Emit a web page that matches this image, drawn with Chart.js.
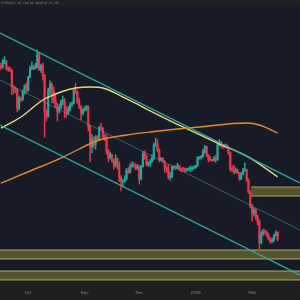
<!DOCTYPE html>
<html lang="en">
<head>
    <meta charset="UTF-8">
    <title>ETH daily channel</title>
    <script src="https://cdn.jsdelivr.net/npm/chart.js"></script>
    <style>
        html, body { margin: 0; padding: 0; background: #1f1f1f; }
        #wrap { position: relative; width: 300px; height: 300px; }
    </style>
</head>
<body>
<div id="wrap"><canvas id="chart"></canvas></div>

<script>
    // Daily candles, Sep 16 2025 -> Feb 15 2026 (x = day number)
    const firstOpen = 4520;
    const closes = [
        4500,4590,4590,4480,4470,4450,4200,4170,4150,3870,4030,4010,4140,4220,4150,
        4350,4480,4510,4480,4510,4690,4460,4530,4370,3830,3750,4150,4240,4130,3990,3890,3830,3890,3980,3980,3870,3800,3850,3930,3950,4150,4120,3980,3900,3800,3850,
        3880,3900,3600,3290,3420,3320,3440,3400,3580,3560,3430,3410,3230,3120,3170,3070,3010,3110,3020,2830,2760,2770,2800,2930,2900,2990,3010,3000,2960,2990,
        2800,2990,3190,3140,3020,3040,3060,3120,3320,3330,3240,3090,3110,3060,2960,2950,2830,2830,2980,2980,2970,3000,2960,2950,2940,2930,2950,2950,2950,2970,2970,
        3000,3120,3120,3140,3220,3290,3160,3100,3090,3080,3120,3090,3320,3350,3310,3290,3310,3280,3200,2950,2940,2900,2930,2890,2800,2870,2930,2940,2780,2600,2380,
        2280,2330,2220,2150,1830,1960,2000,1990,1940,1890,1850,1870,1940,1990,1880
    ];
    const highs = [
        4560,4620,4660,4600,4510,4500,4470,4220,4200,4180,4060,4050,4150,4230,4260,
        4360,4520,4580,4530,4560,4760,4720,4540,4560,4390,3850,4180,4290,4260,4200,4080,3950,3930,4000,4060,4020,3900,3900,3960,3970,4180,4250,4140,4030,3920,3870,
        3900,3920,3910,3620,3480,3440,3460,3460,3600,3650,3580,3480,3470,3250,3210,3180,3100,3170,3120,3060,2850,2790,2850,2960,2970,3030,3060,3050,3030,3020,
        3000,3010,3220,3230,3160,3060,3100,3170,3350,3420,3400,3260,3130,3120,3080,3000,3020,2900,3000,3000,3000,3040,3010,2970,2980,2970,2960,2970,3000,2990,3000,
        3010,3140,3140,3160,3250,3310,3300,3170,3140,3100,3140,3160,3340,3400,3370,3320,3330,3330,3300,3210,3000,3010,2970,2950,2900,2900,2960,3040,2950,2800,2620,
        2420,2360,2350,2250,2180,2000,2040,2030,2010,1970,1910,1900,1960,2010,2000
    ];
    const lows = [
        4460,4480,4550,4450,4440,4430,4080,4100,4110,3820,3850,3980,3990,4090,4100,
        4130,4340,4460,4460,4470,4490,4450,4420,4300,3435,3680,3740,4080,3960,3950,3880,3680,3800,3860,3930,3730,3740,3780,3830,3900,3940,4100,3950,3870,3700,3770,
        3830,3840,3530,3060,3200,3270,3250,3370,3390,3540,3400,3380,3180,3060,3100,3060,2950,2980,2950,2760,2620,2700,2750,2780,2880,2890,2980,2980,2940,2940,
        2720,2780,2980,3100,3000,2990,2990,3050,3090,3300,3210,3060,3070,3050,2900,2900,2800,2780,2820,2950,2940,2950,2930,2910,2920,2900,2910,2930,2910,2920,2950,
        2960,2990,3100,3100,3130,3190,3140,3060,3070,3070,3070,3050,3080,3300,3280,3260,3280,3270,3170,2920,2910,2870,2890,2880,2780,2790,2860,2920,2760,2580,2360,
        2160,2240,2180,2100,1700,1820,1940,1960,1920,1870,1820,1830,1850,1930,1860
    ];

    // month ticks on the time axis
    const tickDays = [15, 46, 76, 107, 138];
    const tickLabels = ['Oct', 'Nov', 'Dec', '2026', 'Feb'];

    const ma100Days = [0, 11, 23, 33, 41, 49, 56, 65, 79, 100, 119, 137, 152];
    const ma100 = [3574, 3742, 4000, 4122, 4182, 4198, 4182, 4076, 3878, 3590, 3346, 3118, 2830];
    const ma200Days = [0, 16, 33, 54, 69, 82, 109, 135, 142, 152];
    const ma200 = [2738, 2921, 3118, 3392, 3468, 3514, 3590, 3650, 3620, 3498];

    // descending channel, both ends
    const channelDays = [-0.5, 164.3];
    const channelUpper = [5018, 2738];
    const channelMid = [4304, 2024];
    const channelLower = [3620, 1340];

    // horizontal zones
    const zoneStart = [137.4, -0.5, -0.5];
    const zoneTop = [2677, 1720, 1401];
    const zoneBottom = [2540, 1583, 1264];

    const UP = '#26a69a', DOWN = '#e8384f';
    const X_MIN = -0.5, X_MAX = 164.3;

    const opens = closes.map((c, i) => i === 0 ? firstOpen : closes[i - 1]);
    const candleColors = closes.map((c, i) => c >= opens[i] ? UP : DOWN);

    function pairLine(days, values) {
        return days.map((d, i) => ({ x: d, y: values[i] }));
    }

    const datasets = [];

    // zones: top edge + bottom edge filled to the top edge
    zoneTop.forEach((top, z) => {
        datasets.push({
            type: 'line', order: 10,
            data: [{ x: zoneStart[z], y: top }, { x: X_MAX, y: top }],
            borderColor: 'rgba(200,195,95,0.55)', borderWidth: 1.5,
            pointRadius: 0, fill: false
        });
        datasets.push({
            type: 'line', order: 10,
            data: [{ x: zoneStart[z], y: zoneBottom[z] }, { x: X_MAX, y: zoneBottom[z] }],
            borderColor: 'rgba(200,195,95,0.55)', borderWidth: 1.5,
            pointRadius: 0, fill: '-1',
            backgroundColor: 'rgba(170,165,65,0.42)'
        });
    });

    // candle wicks and bodies
    datasets.push({
        type: 'bar', order: 6, grouped: false,
        data: closes.map((c, i) => ({ x: i, y: [lows[i], highs[i]] })),
        backgroundColor: candleColors, barThickness: 0.8
    });
    datasets.push({
        type: 'bar', order: 5, grouped: false,
        data: closes.map((c, i) => ({ x: i, y: [opens[i], c] })),
        backgroundColor: candleColors, barThickness: 1.5, minBarLength: 1
    });

    // moving averages
    datasets.push({
        type: 'line', order: 2, data: pairLine(ma200Days, ma200),
        borderColor: '#e48a2e', borderWidth: 1.4, pointRadius: 0,
        cubicInterpolationMode: 'monotone'
    });
    datasets.push({
        type: 'line', order: 2, data: pairLine(ma100Days, ma100),
        borderColor: '#e9d77c', borderWidth: 1.4, pointRadius: 0,
        cubicInterpolationMode: 'monotone'
    });

    // channel lines
    datasets.push({
        type: 'line', order: 1, data: pairLine(channelDays, channelMid),
        borderColor: 'rgba(95,140,150,0.6)', borderWidth: 1, pointRadius: 0
    });
    [channelUpper, channelLower].forEach(vals => {
        datasets.push({
            type: 'line', order: 1, data: pairLine(channelDays, vals),
            borderColor: '#2bb0a6', borderWidth: 1.3, pointRadius: 0
        });
    });

    // dark panels and the small header text
    const backdrop = {
        id: 'backdrop',
        beforeDraw(chart) {
            const { ctx, chartArea: a, width, height } = chart;
            ctx.save();
            ctx.fillStyle = '#1f1f1f';
            ctx.fillRect(0, 0, width, height);
            ctx.fillStyle = '#171b26';
            ctx.fillRect(a.left, a.top, a.right - a.left, a.bottom - a.top);
            ctx.fillStyle = '#8a8a8a';
            ctx.font = '3px "DejaVu Sans"';
            ctx.textBaseline = 'middle';
            ctx.fillText('ETHUSDT, 1D, Feb 16, 2026 07:37 UTC', 1, 3);
            ctx.restore();
        }
    };

    new Chart(document.getElementById('chart'), {
        type: 'bar',
        data: { datasets },
        options: {
            responsive: true,
            maintainAspectRatio: false,
            animation: false,
            layout: { padding: { top: 6, left: 0, right: 0, bottom: 0 } },
            plugins: { legend: { display: false }, tooltip: { enabled: false } },
            scales: {
                x: {
                    type: 'linear', min: X_MIN, max: X_MAX, offset: false,
                    grid: { display: false }, border: { display: false },
                    afterBuildTicks: s => { s.ticks = tickDays.map(v => ({ value: v })); },
                    afterFit: s => { s.height = 19; },
                    ticks: {
                        autoSkip: false, maxRotation: 0, padding: 2,
                        color: '#8a8a8a', font: { size: 4, family: 'DejaVu Sans' },
                        callback: v => tickLabels[tickDays.indexOf(v)]
                    }
                },
                y: { display: false, min: 1249, max: 5429 }
            }
        },
        plugins: [backdrop]
    });
</script>
</body>
</html>
